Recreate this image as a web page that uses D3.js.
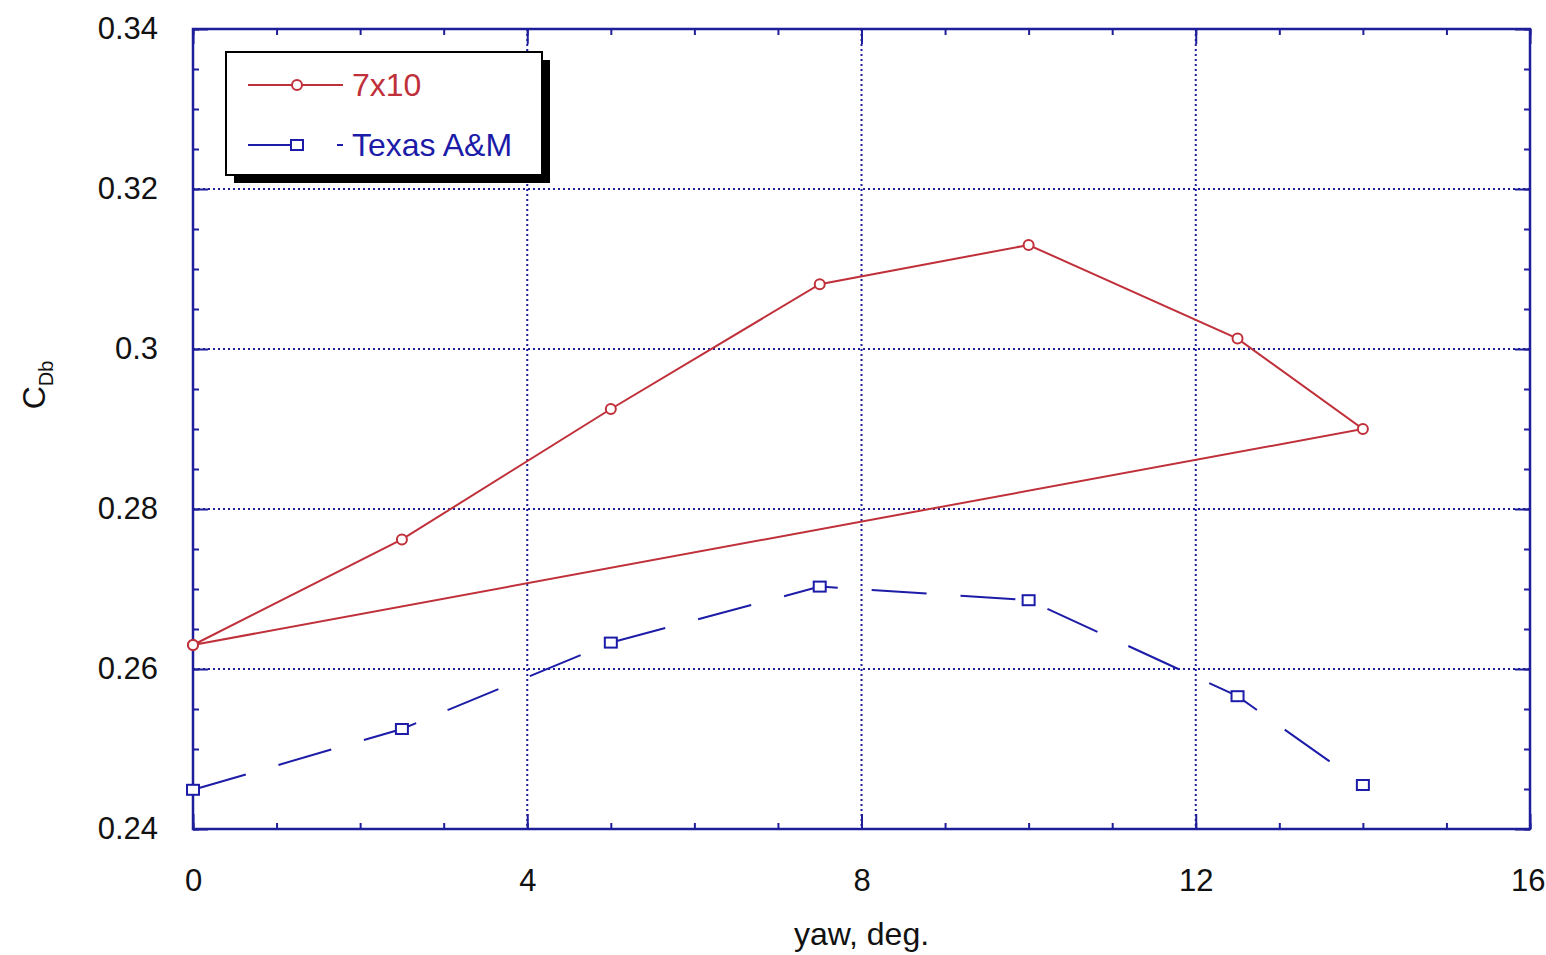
<!DOCTYPE html>
<html>
<head>
<meta charset="utf-8">
<script src="https://cdn.jsdelivr.net/npm/d3@7"></script>
<style>
  body { margin: 0; background: #fff; }
  svg { display: block; font-family: "Liberation Sans", Arial, sans-serif; }
</style>
</head>
<body>
<svg id="chart"></svg>
<script>
// yaw angles (deg.)
const yaw7x10 = [0, 2.5, 5, 7.5, 10, 12.5, 14, 0]
const cdb7x10 = [0.263, 0.2762, 0.2925, 0.3081, 0.313, 0.3013, 0.290, 0.263]
const yawTAMU = [0, 2.5, 5, 7.5, 10, 12.5, 14]
const cdbTAMU = [0.2449, 0.2525, 0.2633, 0.2703, 0.2686, 0.2566, 0.2455]

const xTicks = [0, 4, 8, 12, 16]
const yTicks = [0.24, 0.26, 0.28, 0.3, 0.32, 0.34]
const xMinor = d3.range(0, 16.01, 1)
const yMinor = d3.range(0.24, 0.3401, 0.005)

const seriesNames = ['7x10', 'Texas A&M']

const width = 1546
const height = 955
const margin = { top: 29, right: 16, bottom: 126, left: 193 }
const innerW = width - margin.left - margin.right
const innerH = height - margin.top - margin.bottom

const red = '#c0303a'
const blue = '#1c1ca8'
const frame = '#1e1e9a'

const svg = d3.select('#chart')
  .attr('width', width)
  .attr('height', height)

const g = svg.append('g')
  .attr('transform', `translate(${margin.left},${margin.top})`)

const x = d3.scaleLinear().domain([0, 16]).range([0, innerW])
const y = d3.scaleLinear().domain([0.24, 0.34]).range([innerH, 0])

// 格線 (dotted)
g.append('g').selectAll('line')
  .data(xTicks.slice(1, -1))
  .enter().append('line')
  .attr('x1', d => x(d)).attr('x2', d => x(d))
  .attr('y1', 0).attr('y2', innerH)
  .attr('stroke', frame).attr('stroke-width', 2)
  .attr('stroke-dasharray', '2,3')

g.append('g').selectAll('line')
  .data(yTicks.slice(1, -1))
  .enter().append('line')
  .attr('y1', d => y(d)).attr('y2', d => y(d))
  .attr('x1', 0).attr('x2', innerW)
  .attr('stroke', frame).attr('stroke-width', 2)
  .attr('stroke-dasharray', '2,3')

// axes: minor + major ticks on all 4 sides, pointing inward
function styleAxis(sel) {
  sel.select('.domain').remove()
  sel.selectAll('.tick line').attr('stroke', frame).attr('stroke-width', 2)
  sel.selectAll('.tick text').attr('fill', '#111').attr('font-size', 31)
}

const axes = [
  { gen: d3.axisBottom(x), pos: `translate(0,${innerH})`, vals: xTicks, minor: xMinor, labels: true, pad: 40 },
  { gen: d3.axisTop(x), pos: 'translate(0,0)', vals: xTicks, minor: xMinor, labels: false, pad: 0 },
  { gen: d3.axisLeft(y), pos: 'translate(0,0)', vals: yTicks, minor: yMinor, labels: true, pad: 35 },
  { gen: d3.axisRight(y), pos: `translate(${innerW},0)`, vals: yTicks, minor: yMinor, labels: false, pad: 0 },
]

axes.forEach((a) => {
  g.append('g')
    .attr('transform', a.pos)
    .call(a.gen.tickValues(a.minor).tickSize(-6).tickFormat(''))
    .call(styleAxis)
  g.append('g')
    .attr('transform', a.pos)
    .call(a.gen.tickValues(a.vals).tickSize(-15)
      .tickPadding(a.pad)
      .tickFormat(a.labels ? d3.format('') : ''))
    .call(styleAxis)
})

// keep the last x label inside the page
g.selectAll('.tick text')
  .filter(d => d === 16)
  .attr('text-anchor', 'end')
  .attr('dx', 15)

// frame
g.append('rect')
  .attr('width', innerW).attr('height', innerH)
  .attr('fill', 'none').attr('stroke', frame).attr('stroke-width', 2.5)

const line = d3.line()
  .x(d => x(d[0]))
  .y(d => y(d[1]))

const data7x10 = yaw7x10.map((v, i) => [v, cdb7x10[i]])
const dataTAMU = yawTAMU.map((v, i) => [v, cdbTAMU[i]])

g.append('path')
  .datum(data7x10)
  .attr('d', line)
  .attr('fill', 'none').attr('stroke', red).attr('stroke-width', 2)

g.append('path')
  .datum(dataTAMU)
  .attr('d', line)
  .attr('fill', 'none').attr('stroke', blue).attr('stroke-width', 2)
  .attr('stroke-dasharray', '55,34')

g.append('g').selectAll('circle')
  .data(data7x10)
  .enter().append('circle')
  .attr('cx', d => x(d[0])).attr('cy', d => y(d[1]))
  .attr('r', 5)
  .attr('fill', '#fff').attr('stroke', red).attr('stroke-width', 2)

g.append('g').selectAll('rect')
  .data(dataTAMU)
  .enter().append('rect')
  .attr('x', d => x(d[0]) - 6).attr('y', d => y(d[1]) - 5)
  .attr('width', 12).attr('height', 10)
  .attr('fill', '#fff').attr('stroke', blue).attr('stroke-width', 2)

// 軸標題
svg.append('text')
  .attr('x', margin.left + innerW / 2)
  .attr('y', 945)
  .attr('text-anchor', 'middle')
  .attr('font-size', 32)
  .attr('fill', '#111')
  .text('yaw, deg.')

const yLab = svg.append('text')
  .attr('transform', 'translate(45,385) rotate(-90)')
  .attr('text-anchor', 'middle')
  .attr('font-size', 32)
  .attr('fill', '#111')
yLab.append('tspan').text('C')
yLab.append('tspan').attr('font-size', 20).attr('dy', 8).text('Db')

// legend
const lg = svg.append('g')
lg.append('rect')
  .attr('x', 234).attr('y', 60).attr('width', 316).attr('height', 123)
  .attr('fill', '#000')
lg.append('rect')
  .attr('x', 226).attr('y', 52).attr('width', 316).attr('height', 123)
  .attr('fill', '#fff').attr('stroke', '#000').attr('stroke-width', 2)

const legendItems = [
  { name: seriesNames[0], color: red, dash: null, shape: 'circle', y: 85 },
  { name: seriesNames[1], color: blue, dash: '55,34', shape: 'square', y: 145 },
]

legendItems.forEach((it) => {
  lg.append('line')
    .attr('x1', 248).attr('x2', 343)
    .attr('y1', it.y).attr('y2', it.y)
    .attr('stroke', it.color).attr('stroke-width', 2)
    .attr('stroke-dasharray', it.dash)
  if (it.shape === 'circle') {
    lg.append('circle').attr('cx', 297).attr('cy', it.y).attr('r', 5)
      .attr('fill', '#fff').attr('stroke', it.color).attr('stroke-width', 2)
  }
  else {
    lg.append('rect').attr('x', 291).attr('y', it.y - 5).attr('width', 12).attr('height', 10)
      .attr('fill', '#fff').attr('stroke', it.color).attr('stroke-width', 2)
  }
  lg.append('text')
    .attr('x', 352).attr('y', it.y + 11)
    .attr('font-size', 32)
    .attr('fill', it.color)
    .text(it.name)
})
</script>
</body>
</html>
